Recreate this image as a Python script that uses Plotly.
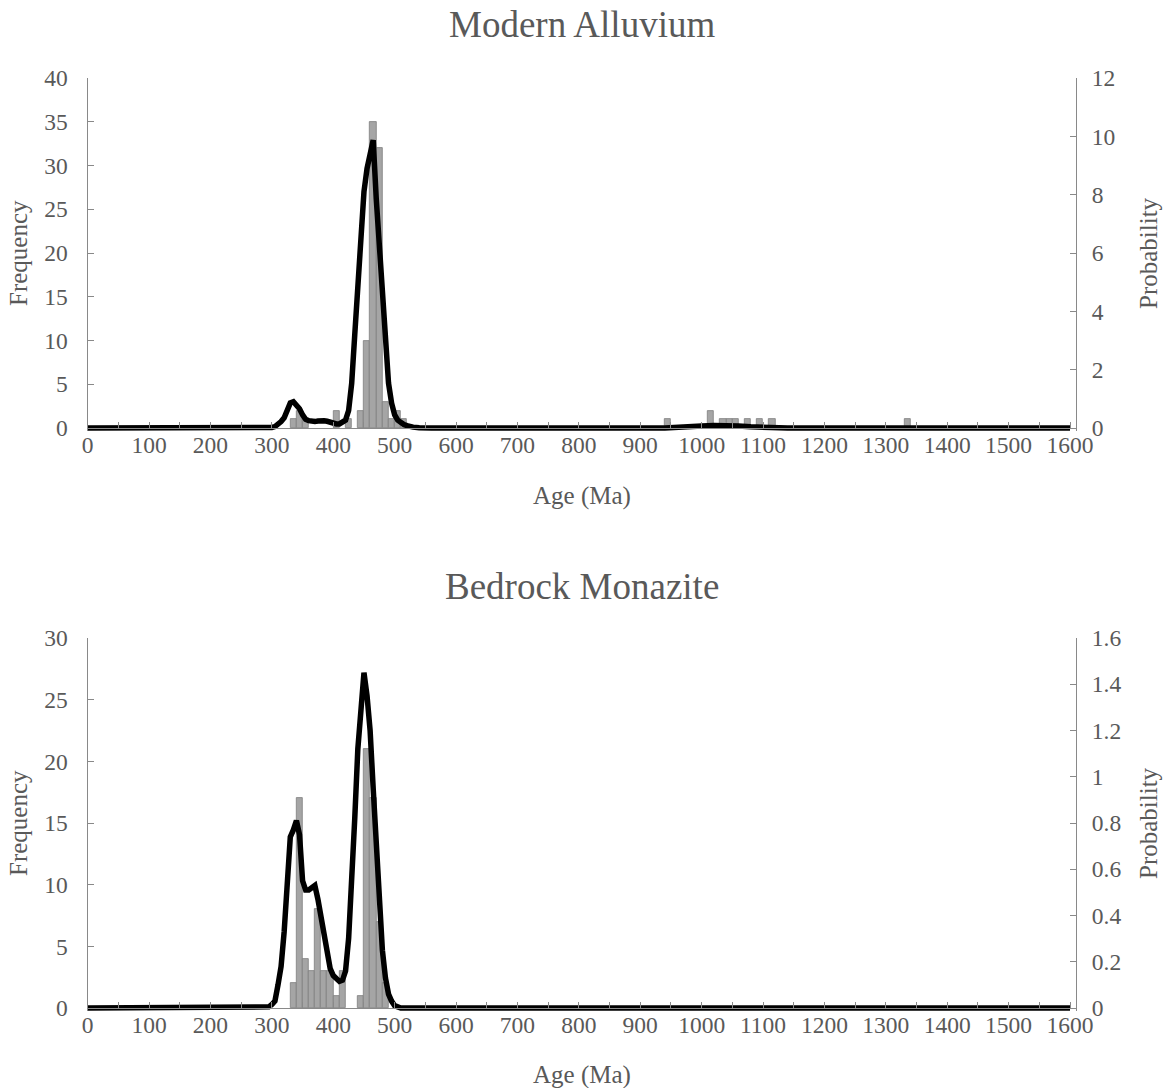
import plotly.graph_objects as go

# ---------------- data ----------------
# Modern Alluvium histogram (bin centres, Ma) and counts
top_bins = [335, 345, 355, 405, 425, 445, 455, 465, 475, 485, 495, 505, 515,
            945, 1015, 1035, 1045, 1055, 1075, 1095, 1115, 1335]
top_counts = [1, 2, 1, 2, 1, 2, 10, 35, 32, 3, 1, 2, 1,
              1, 2, 1, 1, 1, 1, 1, 1, 1]

# Modern Alluvium probability curve
top_age = [0, 295, 300, 305, 310, 315, 320, 325, 330, 335, 340, 345, 350, 355, 360,
           365, 370, 375, 380, 385, 390, 395, 400, 405, 410, 415, 420, 425, 430,
           435, 440, 445, 450, 455, 460, 465, 470, 475, 480, 485, 490, 495, 500,
           505, 510, 515, 520, 525, 530, 540, 560, 940, 960, 980, 1000, 1020, 1040,
           1060, 1080, 1100, 1120, 1140, 1300, 1320, 1335, 1350, 1370, 1600]
top_prob = [0, 0, 0.02, 0.05, 0.12, 0.22, 0.35, 0.60, 0.86, 0.90, 0.80, 0.66, 0.45,
            0.30, 0.25, 0.22, 0.22, 0.24, 0.26, 0.25, 0.23, 0.19, 0.16, 0.14, 0.14,
            0.18, 0.27, 0.60, 1.53, 3.2, 4.9, 6.45, 8.1, 8.9, 9.5, 9.87, 7.86, 6.23,
            4.59, 3.0, 1.54, 0.85, 0.45, 0.27, 0.18, 0.12, 0.08, 0.05, 0.03, 0.01, 0,
            0, 0.01, 0.04, 0.07, 0.09, 0.09, 0.07, 0.04, 0.02, 0.01, 0, 0, 0.01,
            0.02, 0.01, 0, 0]

# Bedrock Monazite histogram
bot_bins = [335, 345, 355, 365, 375, 385, 395, 405, 415, 445, 455, 465, 475, 485]
bot_counts = [2, 17, 4, 3, 8, 3, 3, 1, 3, 1, 21, 17, 7, 2]

# Bedrock Monazite probability curve
bot_age = [0, 290, 295, 300, 305, 310, 315, 320, 325, 330, 335, 340, 345, 350, 355,
           360, 365, 370, 375, 380, 385, 390, 395, 400, 405, 410, 415, 420, 425, 430,
           435, 440, 445, 450, 455, 460, 465, 470, 475, 480, 485, 490, 495, 500, 505,
           510, 1600]
bot_prob = [0, 0, 0.005, 0.015, 0.03, 0.10, 0.18, 0.33, 0.52, 0.74, 0.77, 0.81, 0.75,
            0.55, 0.51, 0.51, 0.52, 0.53, 0.47, 0.39, 0.30, 0.22, 0.17, 0.14, 0.125,
            0.115, 0.12, 0.16, 0.30, 0.52, 0.82, 1.12, 1.28, 1.45, 1.35, 1.20, 0.95,
            0.72, 0.47, 0.25, 0.13, 0.06, 0.03, 0.01, 0.005, 0, 0]

x_tick_vals = list(range(0, 1601, 100))
x_tick_text = [str(v) for v in x_tick_vals]

titles = ["Modern Alluvium", "Bedrock Monazite"]

# ---------------- layout helpers ----------------
W, H = 1164, 1088
FONT = "Liberation Serif, Times New Roman, serif"
TXT = "#595959"
AX = "#898989"
BAR_FILL = "#A5A5A5"
BAR_LINE = "#7F7F7F"


def fx(p):
    return p / W


def fy(p):
    return 1 - p / H


X_LEFT, X_RIGHT = 87.7, 1076.0
XMAX = 1600 * (X_RIGHT - X_LEFT) / (1070.0 - X_LEFT)
PAD = 3.0

fig = go.Figure()

panels = [
    dict(bins=top_bins, counts=top_counts, age=top_age, prob=top_prob,
         top=78.0, zero=428.0, ymax=40, ydt=5, y2max=12, y2dt=2,
         title_y=24, xtitle_y=496),
    dict(bins=bot_bins, counts=bot_counts, age=bot_age, prob=bot_prob,
         top=638.0, zero=1008.0, ymax=30, ydt=5, y2max=1.6, y2dt=0.2,
         title_y=586, xtitle_y=1075),
]

tickfont = dict(family=FONT, size=23.5, color=TXT)
annotations = []

for i, p in enumerate(panels):
    n = i + 1
    xa = "x" if n == 1 else f"x{n}"
    ya = f"y{2*n-1}" if n > 1 else "y"
    ya2 = f"y{2*n}"
    fig.add_trace(go.Bar(x=p["bins"], y=p["counts"], width=10,
                         marker=dict(color=BAR_FILL, line=dict(color=BAR_LINE, width=0.8)),
                         xaxis=xa, yaxis=ya, showlegend=False))
    fig.add_trace(go.Scatter(x=p["age"], y=p["prob"], mode="lines",
                             line=dict(color="black", width=5.5),
                             xaxis=xa, yaxis=ya2, showlegend=False))

    hpx = p["zero"] - p["top"]
    s1 = hpx / p["ymax"]
    s2 = hpx / p["y2max"]
    ydom = [fy(p["zero"] + PAD), fy(p["top"])]

    xkey = "xaxis" if n == 1 else f"xaxis{n}"
    ykey = "yaxis" if n == 1 else f"yaxis{2*n-1}"
    y2key = f"yaxis{2*n}"
    yname = "y" if n == 1 else f"y{2*n-1}"

    fig.layout[xkey] = dict(
        domain=[fx(X_LEFT), fx(X_RIGHT)], range=[0, XMAX], anchor="free",
        position=fy(p["zero"]), showline=True, linecolor=AX, linewidth=1.3,
        tickmode="array", tickvals=x_tick_vals, ticktext=x_tick_text,
        ticks="inside", ticklen=6, tickcolor=AX, tickwidth=1.3,
        minor=dict(tickmode="linear", tick0=0, dtick=50, ticks="inside",
                   ticklen=6, tickcolor=AX, tickwidth=1.3, showgrid=False),
        showgrid=False, zeroline=False, tickfont=tickfont,
        ticklabelstandoff=-4, automargin=False, fixedrange=True)
    fig.layout[ykey] = dict(
        domain=ydom, anchor=xa, range=[-PAD / s1, p["ymax"]],
        tickmode="linear", tick0=0, dtick=p["ydt"], showline=True,
        linecolor=AX, linewidth=1.3, ticks="inside", ticklen=6, tickcolor=AX,
        tickwidth=1.3, showgrid=False, zeroline=False, tickfont=tickfont,
        ticklabelstandoff=14, automargin=False)
    fig.layout[y2key] = dict(
        overlaying=yname, anchor=xa, side="right",
        range=[-PAD / s2, p["y2max"]], tickmode="linear", tick0=0,
        dtick=p["y2dt"], showline=True, linecolor=AX, linewidth=1.3,
        ticks="inside", ticklen=6, tickcolor=AX, tickwidth=1.3,
        showgrid=False, zeroline=False, tickfont=tickfont,
        ticklabelstandoff=10, automargin=False)

    mid_y = (p["top"] + p["zero"]) / 2
    annotations += [
        dict(text=titles[i], x=fx((X_LEFT + X_RIGHT) / 2), y=fy(p["title_y"]),
             xref="paper", yref="paper", showarrow=False, xanchor="center",
             yanchor="middle", font=dict(family=FONT, size=37, color=TXT)),
        dict(text="Age (Ma)", x=fx((X_LEFT + X_RIGHT) / 2), y=fy(p["xtitle_y"]),
             xref="paper", yref="paper", showarrow=False, xanchor="center",
             yanchor="middle", font=dict(family=FONT, size=25, color=TXT)),
        dict(text="Frequency", x=fx(18), y=fy(mid_y), textangle=-90,
             xref="paper", yref="paper", showarrow=False, xanchor="center",
             yanchor="middle", font=dict(family=FONT, size=25, color=TXT)),
        dict(text="Probability", x=fx(1148), y=fy(mid_y), textangle=-90,
             xref="paper", yref="paper", showarrow=False, xanchor="center",
             yanchor="middle", font=dict(family=FONT, size=25, color=TXT)),
    ]

fig.update_layout(
    width=W, height=H, margin=dict(l=0, r=0, t=0, b=0),
    paper_bgcolor="white", plot_bgcolor="white", bargap=0,
    annotations=annotations, showlegend=False,
    font=dict(family=FONT, color=TXT),
)

# remove the default page margin so the figure sits at the window's top-left corner
fig.write_html("out.html",
               config={"displayModeBar": False},
               post_script="document.body.style.margin='0';"
                           "document.body.style.overflow='hidden';")
